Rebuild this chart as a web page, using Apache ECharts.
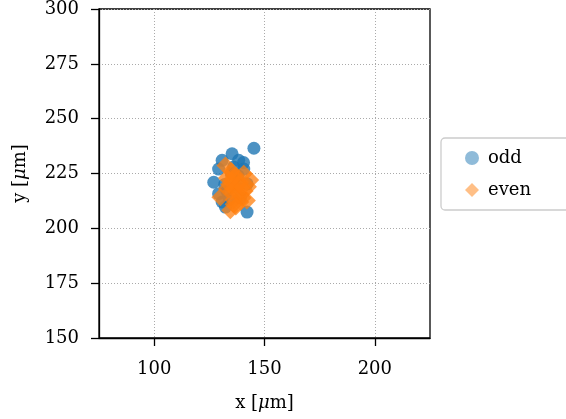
<!DOCTYPE html>
<html>
<head>
<meta charset="utf-8">
<script src="https://cdn.jsdelivr.net/npm/echarts@6/dist/echarts.min.js"></script>
<style>html,body{margin:0;padding:0;background:#fff;}#c{width:566px;height:419px;}</style>
</head>
<body>
<div id="c"></div>
<script>
var xTicks = [100, 150, 200];
var yTicks = [150, 175, 200, 225, 250, 275, 300];
var oddX = [145.2, 142.1, 135.3, 138.3, 130.8, 129.2, 127, 130.8, 132.3, 140.6, 142.1, 129.2, 135, 137, 134, 139, 132, 136, 138, 133, 140.5];
var oddY = [236.5, 207.4, 234, 231, 231, 227, 221, 212, 209.7, 227, 220.3, 215.8, 225, 219, 213, 214, 220, 228, 224, 217, 230];
var evenX = [132.3, 140.6, 134.5, 130, 142, 136, 137, 139, 138, 135, 141, 133, 136, 140, 137, 135, 138, 134, 139, 136, 142.5, 133, 137, 135, 140, 143.5];
var evenY = [228.6, 224.9, 208.2, 214.2, 212.7, 224, 218, 212, 220, 222, 217, 218, 211, 214, 224, 217, 216, 220, 221, 213, 219, 223, 210, 226, 219, 222];

function pairs(xs, ys) { return xs.map(function (x, i) { return [x, ys[i]]; }); }

var font = 'DejaVu Serif';
var chart = echarts.init(document.getElementById('c'), null, {renderer: 'canvas'});
chart.setOption({
  animation: false,
  grid: {left: 99, top: 8, width: 331, height: 330, show: true, borderColor: '#000', borderWidth: 1.3, backgroundColor: 'transparent'},
  xAxis: {
    type: 'value', min: 75, max: 225,
    name: 'x [{i|μ}m]', nameLocation: 'middle', nameGap: 56,
    nameTextStyle: {fontFamily: font, fontSize: 18, color: '#000', rich: {i: {fontFamily: font, fontStyle: 'italic', fontSize: 18, color: '#000'}}},
    axisLine: {lineStyle: {color: '#000', width: 1.3}},
    axisTick: {show: true, length: 8, customValues: xTicks, lineStyle: {color: '#000', width: 1.3}},
    axisLabel: {customValues: xTicks, fontFamily: font, fontSize: 18, color: '#000', margin: 22},
    splitLine: {show: true, customValues: xTicks, lineStyle: {color: '#aaa', type: [1, 2], width: 1}}
  },
  yAxis: {
    type: 'value', min: 150, max: 300, interval: 25,
    name: 'y [{i|μ}m]', nameLocation: 'middle', nameGap: 70,
    nameTextStyle: {fontFamily: font, fontSize: 18, color: '#000', rich: {i: {fontFamily: font, fontStyle: 'italic', fontSize: 18, color: '#000'}}},
    axisLine: {lineStyle: {color: '#000', width: 1.3}},
    axisTick: {show: true, length: 8, lineStyle: {color: '#000', width: 1.3}},
    axisLabel: {fontFamily: font, fontSize: 18, color: '#000', margin: 20},
    splitLine: {show: true, lineStyle: {color: '#aaa', type: [1, 2], width: 1}}
  },
  legend: {
    orient: 'vertical', left: 441, top: 138,
    padding: [10, 80, 10, 24],
    itemWidth: 14, itemHeight: 14, itemGap: 12,
    borderColor: '#ccc', borderWidth: 1.3, borderRadius: 4,
    backgroundColor: 'rgba(255,255,255,0.8)',
    textStyle: {fontFamily: font, fontSize: 18, color: '#000', lineHeight: 20, padding: [0, 0, 0, 4]},
    data: [
      {name: 'odd', icon: 'circle', itemStyle: {color: '#1f77b4', opacity: 0.5}},
      {name: 'even', icon: 'diamond', itemStyle: {color: '#ff7f0e', opacity: 0.5}}
    ]
  },
  series: [
    {name: 'odd', type: 'scatter', symbol: 'circle', symbolSize: 13, data: pairs(oddX, oddY),
     itemStyle: {color: '#1f77b4', opacity: 0.8}},
    {name: 'even', type: 'scatter', symbol: 'diamond', symbolSize: 18, data: pairs(evenX, evenY),
     itemStyle: {color: '#ff7f0e', opacity: 0.75}}
  ]
});
</script>
</body>
</html>
